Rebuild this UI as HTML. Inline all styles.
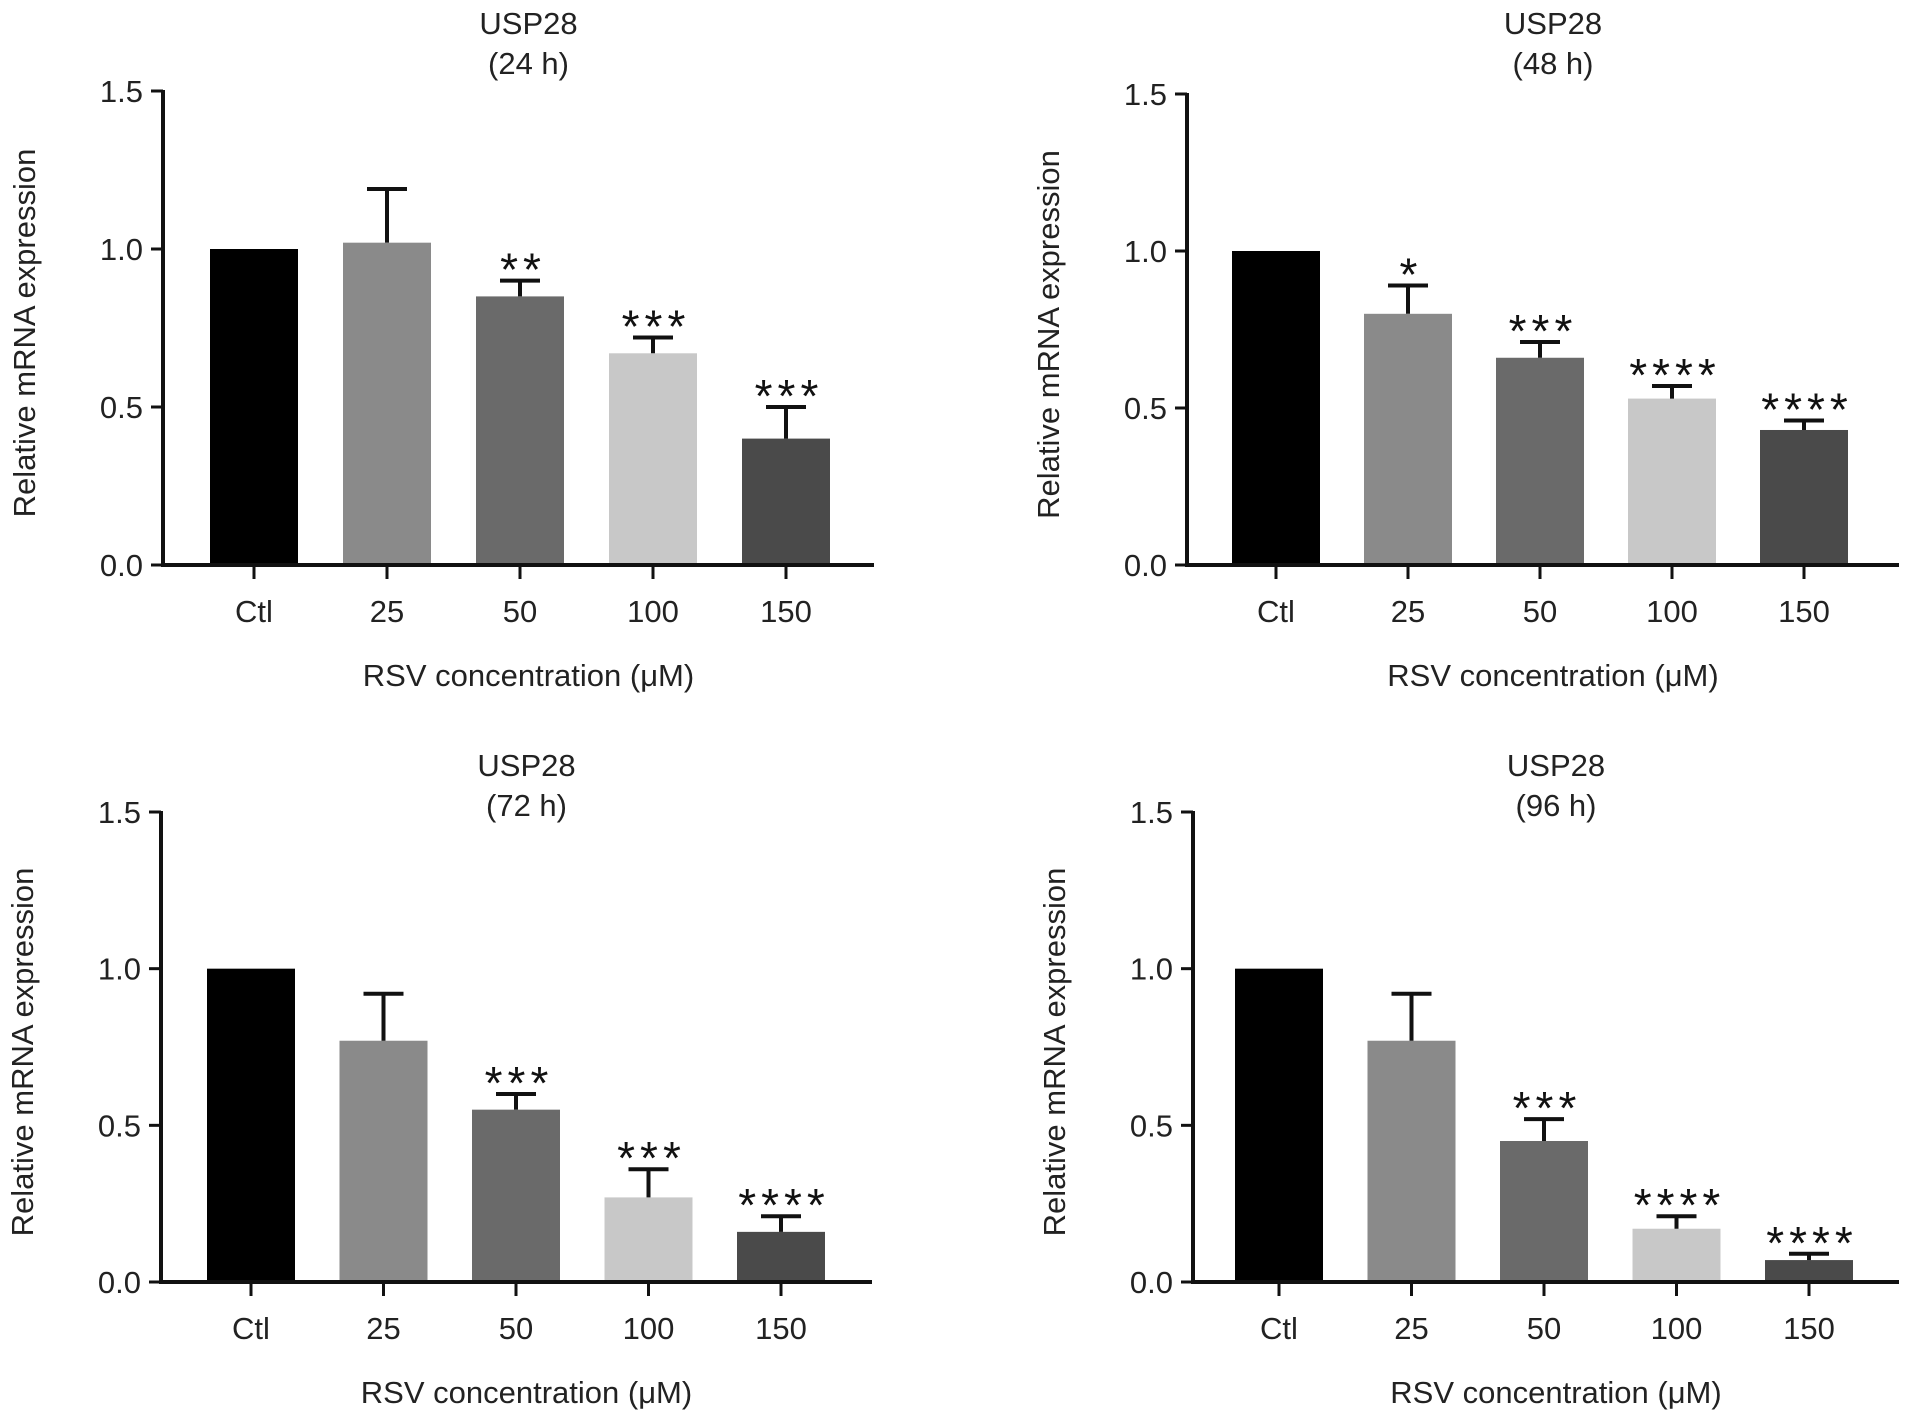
<!DOCTYPE html>
<html><head><meta charset="utf-8"><style>
html,body{margin:0;padding:0;background:#fff}
svg{display:block;font-family:"Liberation Sans",Arial,sans-serif}
</style></head><body>
<svg id="fig" width="1913" height="1417" viewBox="0 0 1913 1417" xmlns="http://www.w3.org/2000/svg"></svg>
<script>
const categories = ["Ctl","25","50","100","150"];
const yTicks = [0.0,0.5,1.0,1.5];
const yTickLabels = ["0.0","0.5","1.0","1.5"];
const titles = ["(24 h)","(48 h)","(72 h)","(96 h)"];
const means24 = [1.0,1.02,0.85,0.67,0.40];
const errs24  = [1.0,1.19,0.90,0.72,0.50];
const stars24 = ["","","**","***","***"];
const means48 = [1.0,0.80,0.66,0.53,0.43];
const errs48  = [1.0,0.89,0.71,0.57,0.46];
const stars48 = ["","*","***","****","****"];
const means72 = [1.0,0.77,0.55,0.27,0.16];
const errs72  = [1.0,0.92,0.60,0.36,0.21];
const stars72 = ["","","***","***","****"];
const means96 = [1.0,0.77,0.45,0.17,0.07];
const errs96  = [1.0,0.92,0.52,0.21,0.09];
const stars96 = ["","","***","****","****"];

const colors = ["#000000","#8a8a8a","#6a6a6a","#c8c8c8","#4a4a4a"];
const panels = [
 {ax:163,y0:565,y15:91,xe:874,x0:254,dx:133,ty:8,means:means24,errs:errs24,stars:stars24},
 {ax:1187,y0:565,y15:94,xe:1899,x0:1276,dx:132,ty:8,means:means48,errs:errs48,stars:stars48},
 {ax:161,y0:1282,y15:812,xe:872,x0:251,dx:132.5,ty:750,means:means72,errs:errs72,stars:stars72},
 {ax:1193,y0:1282,y15:812,xe:1899,x0:1279,dx:132.5,ty:750,means:means96,errs:errs96,stars:stars96}
];
const NS="http://www.w3.org/2000/svg";
const svg=document.getElementById('fig');
function mk(tag,attrs,parent,text){const e=document.createElementNS(NS,tag);for(const k in attrs)e.setAttribute(k,attrs[k]);if(text!==undefined)e.textContent=text;parent.appendChild(e);return e;}
panels.forEach((p,pi)=>{
  const g=mk('g',{},svg);
  
  
  const y=v=>p.y0-(p.y0-p.y15)*v/1.5;
  const xc=i=>p.x0+i*p.dx;
  const cx=(p.ax+p.xe)/2+10;
  let t=mk('text',{x:cx,y:p.ty+26,'font-size':31,'text-anchor':'middle',fill:'#222'},g,'USP28');
  
  
  t=mk('text',{x:cx,y:p.ty+66,'font-size':31,'text-anchor':'middle',fill:'#222'},g,titles[pi]);
  
  
  const bw=88;
  p.means.forEach((m,i)=>{
    const r=mk('rect',{x:xc(i)-bw/2,y:y(m),width:bw,height:p.y0-y(m),fill:colors[i]},g);
    
    
    if(p.errs[i]>m+0.001){
      const e=mk('path',{d:`M${xc(i)} ${y(m)}V${y(p.errs[i])}M${xc(i)-20} ${y(p.errs[i])}H${xc(i)+20}`,stroke:'#111','stroke-width':4,fill:'none'},g);
      
      
    }
    if(p.stars[i]){
      const s=mk('text',{x:xc(i)+3,y:y(p.errs[i])+5,'font-size':46,'text-anchor':'middle',fill:'#111','letter-spacing':'5'},g,p.stars[i]);
      
      
    }
    const tk=mk('line',{x1:xc(i),x2:xc(i),y1:p.y0,y2:p.y0+14,stroke:'#111','stroke-width':3},g);
    
    
    const tl=mk('text',{x:xc(i),y:p.y0+57,'font-size':31,'text-anchor':'middle',fill:'#222'},g,categories[i]);
    
    
  });
  yTicks.forEach((v,i)=>{
    const tk=mk('line',{x1:p.ax-12,x2:p.ax,y1:y(v),y2:y(v),stroke:'#111','stroke-width':3},g);
    
    
    const tl=mk('text',{x:p.ax-20,y:y(v)+11,'font-size':31,'text-anchor':'end',fill:'#222'},g,yTickLabels[i]);
    
    
  });
  const ya=mk('line',{x1:p.ax,x2:p.ax,y1:y(1.5)-1,y2:p.y0+2,stroke:'#111','stroke-width':4},g);
  
  
  const xa=mk('line',{x1:p.ax-2,x2:p.xe,y1:p.y0,y2:p.y0,stroke:'#111','stroke-width':4},g);
  
  
  const xt=mk('text',{x:cx,y:p.y0+121,'font-size':31,'text-anchor':'middle',fill:'#222'},g,'RSV concentration (μM)');
  
  
  const ly=(p.y0+p.y15)/2+5;
  const yt=mk('text',{x:0,y:0,'font-size':31,'text-anchor':'middle',fill:'#222',transform:`translate(${p.ax-128},${ly}) rotate(-90)`},g,'Relative mRNA expression');
  
  
});
</script>
</body></html>
